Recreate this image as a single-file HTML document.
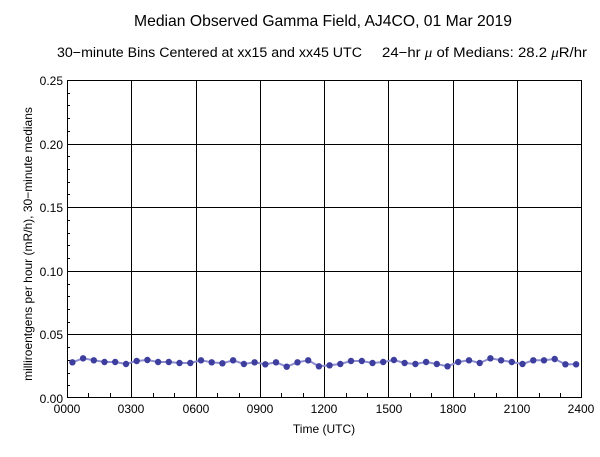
<!DOCTYPE html>
<html><head><meta charset="utf-8"><style>
html,body{margin:0;padding:0;background:#fff;}
svg{display:block;}
text{font-family:"Liberation Sans",Arial,sans-serif;fill:#000;}
</style></head><body>
<svg width="600" height="457" viewBox="0 0 600 457" xmlns="http://www.w3.org/2000/svg">
<rect width="600" height="457" fill="#fff"/>
<text x="134" y="26" font-size="16" textLength="378" lengthAdjust="spacingAndGlyphs">Median Observed Gamma Field, AJ4CO, 01 Mar 2019</text>
<text x="57" y="57" font-size="13.5" textLength="305" lengthAdjust="spacingAndGlyphs">30−minute Bins Centered at xx15 and xx45 UTC</text>
<text x="382" y="57" font-size="13.5" textLength="205" lengthAdjust="spacingAndGlyphs">24−hr <tspan font-family="Liberation Serif" font-style="italic">μ</tspan> of Medians: 28.2 <tspan font-family="Liberation Serif" font-style="italic">μ</tspan>R/hr</text>
<g id="grid" stroke="#000" stroke-width="1" shape-rendering="crispEdges" fill="none">
<rect x="67.5" y="80.5" width="514" height="317"/>
<line x1="131.5" y1="80" x2="131.5" y2="398"/>
<line x1="196.5" y1="80" x2="196.5" y2="398"/>
<line x1="260.5" y1="80" x2="260.5" y2="398"/>
<line x1="324.5" y1="80" x2="324.5" y2="398"/>
<line x1="388.5" y1="80" x2="388.5" y2="398"/>
<line x1="453.5" y1="80" x2="453.5" y2="398"/>
<line x1="517.5" y1="80" x2="517.5" y2="398"/>
<line x1="67" y1="144.5" x2="582" y2="144.5"/>
<line x1="67" y1="207.5" x2="582" y2="207.5"/>
<line x1="67" y1="271.5" x2="582" y2="271.5"/>
<line x1="67" y1="334.5" x2="582" y2="334.5"/>
</g>
<g id="ticks" stroke="#000" stroke-width="1" shape-rendering="crispEdges"></g>
<g font-size="12" text-anchor="end">
<text x="63" y="85">0.25</text>
<text x="63" y="149">0.20</text>
<text x="63" y="212">0.15</text>
<text x="63" y="276">0.10</text>
<text x="63" y="339">0.05</text>
<text x="63" y="403">0.00</text>
</g>
<g font-size="12" text-anchor="middle">
<text x="67" y="413">0000</text>
<text x="131" y="413">0300</text>
<text x="196" y="413">0600</text>
<text x="260" y="413">0900</text>
<text x="324" y="413">1200</text>
<text x="389" y="413">1500</text>
<text x="453" y="413">1800</text>
<text x="517" y="413">2100</text>
<text x="581" y="413">2400</text>
<text x="324" y="433">Time (UTC)</text>
</g>
<text transform="translate(32,244) rotate(-90)" font-size="12" text-anchor="middle">milliroentgens per hour (mR/h), 30−minute medians</text>
<polyline id="ln" fill="none" stroke="#8c8cd0" stroke-width="2" points=""/>
<g id="pts" fill="#3e3e9e"></g>
<script>
var ys=[362.3,358.3,360.3,362,362,364,361,360,362,362,363,363,
360.3,362.3,363.3,360.3,364,362.3,364.3,362.3,366.7,362.3,360.3,366.3,
365.3,364,361,361,363,362,360,363,364,362,364,366.3,
362,360.3,363,358.3,360.3,362,364,360.3,360.3,359,364.3,364.3];
var ns="http://www.w3.org/2000/svg";
var pts=[],g=document.getElementById("pts");
for(var i=0;i<48;i++){var x=67+(i*0.5+0.25)*21.4375;pts.push(x.toFixed(1)+","+ys[i]);
var c=document.createElementNS(ns,"circle");c.setAttribute("cx",x.toFixed(1));c.setAttribute("cy",ys[i]);c.setAttribute("r","3.2");g.appendChild(c);}
document.getElementById("ln").setAttribute("points",pts.join(" "));
var t=document.getElementById("ticks");
function L(a,b,c,d){var l=document.createElementNS(ns,"line");l.setAttribute("x1",a);l.setAttribute("y1",b);l.setAttribute("x2",c);l.setAttribute("y2",d);t.appendChild(l);}
for(var h=1;h<24;h++){if(h%3==0)continue;var x=Math.round(67+h*21.4375)+0.5;L(x,398,x,393);}
for(var k=1;k<25;k++){if(k%5==0)continue;var y=Math.round(398-k*12.72)+0.5;L(67,y,70,y);}
</script>
</svg>
</body></html>
